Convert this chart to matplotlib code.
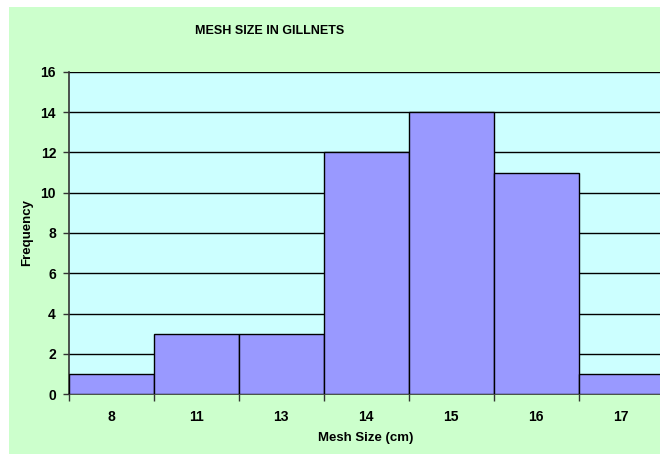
import matplotlib.pyplot as plt
import matplotlib.patches as mpatches
import numpy as np

plt.rcParams['font.family'] = ['Liberation Sans', 'DejaVu Sans']
plt.rcParams['font.weight'] = 'bold'

# mesh size classes (cm) and gillnet counts
mesh_sizes = ['8', '11', '13', '14', '15', '16', '17']
frequency = [1, 3, 3, 12, 14, 11, 1]
y_ticks = [0, 2, 4, 6, 8, 10, 12, 14, 16]

fig = plt.figure(figsize=(6.6, 4.54), dpi=100)
fig.patch.set_facecolor('white')
# chart area panel, kept behind the axes
fig.patches.append(mpatches.Rectangle((9 / 660, 0), 1.0, 447 / 454, transform=fig.transFigure,
                                      facecolor='#CCFFCC', edgecolor='none', zorder=-1))

ax = fig.add_axes([68.5 / 660, 59.7 / 454, 595 / 660, 322.6 / 454])
ax.set_zorder(1)
ax.set_facecolor('#CCFFFF')

x = np.arange(len(mesh_sizes))
ax.bar(x, frequency, width=1.0, color='#9999FF', edgecolor='black', linewidth=1.0, zorder=3)

ax.set_xlim(-0.5, len(mesh_sizes) - 0.5)
ax.set_ylim(0, 16)
ax.set_yticks(y_ticks)
ax.yaxis.grid(True, color='black', linewidth=1.0, zorder=1)
ax.set_axisbelow(True)

# category labels at bar centres, tick marks at the boundaries
ax.set_xticks(np.arange(len(mesh_sizes) + 1) - 0.5)
ax.set_xticklabels([])
ax.set_xticks(x, minor=True)
ax.set_xticklabels(mesh_sizes, minor=True)
ax.tick_params(axis='x', which='major', length=5, width=1, color='#333333', direction='out')
ax.tick_params(axis='x', which='minor', length=0, pad=11, labelsize=10)
ax.tick_params(axis='y', length=4, width=1, color='#333333', direction='out', pad=5, labelsize=10)

for side in ['top', 'right']:
    ax.spines[side].set_visible(False)
for side in ['left', 'bottom']:
    ax.spines[side].set_color('#333333')
    ax.spines[side].set_linewidth(1.2)

fig.text(270 / 660, 1 - 31 / 454, 'MESH SIZE IN GILLNETS', ha='center', va='center',
         fontsize=9, fontweight='bold')
ax.set_xlabel('Mesh Size (cm)', fontsize=9.5, fontweight='bold', labelpad=6)
ax.set_ylabel('Frequency', fontsize=9.5, fontweight='bold', labelpad=5)

plt.savefig('out.png', dpi=100, facecolor=fig.get_facecolor())
